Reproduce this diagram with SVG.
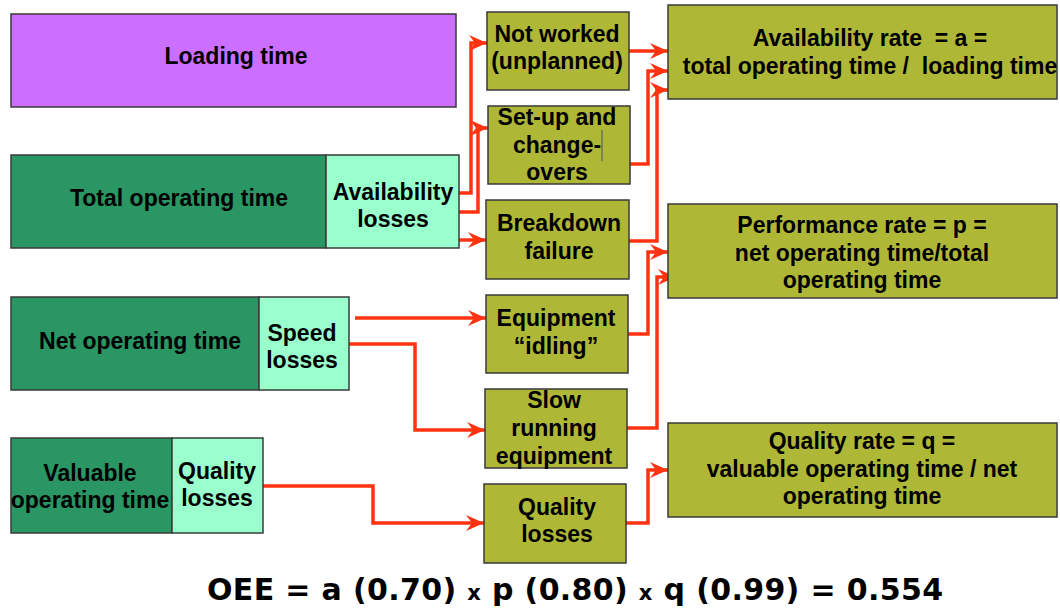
<svg xmlns="http://www.w3.org/2000/svg" width="1060" height="609" viewBox="0 0 1060 609">
<style>
  text { font-family: "Liberation Sans", Arial, sans-serif; font-weight: bold; font-size: 23px; fill: #000; text-anchor: middle; }
  .box { stroke: #3a3a3a; stroke-width: 1.5; }
  .purple { fill: #CC6EFF; }
  .dark { fill: #299664; }
  .mint { fill: #99FFCC; }
  .olive { fill: #AFB836; }
  .conn { fill: none; stroke: #FF3311; stroke-width: 3.5; stroke-linejoin: miter; }
  .oee { font-family: "DejaVu Sans", Verdana, sans-serif; font-size: 30px; text-anchor: start; }
</style>
<defs>
  <marker id="arr" markerUnits="userSpaceOnUse" markerWidth="20" markerHeight="18" refX="18" refY="9" orient="auto">
    <path d="M0,1 L18,9 L0,17 L6,9 Z" fill="#FF3311"/>
  </marker>
</defs>
<rect width="1060" height="609" fill="#ffffff"/>

<g id="connectors">
  <path class="conn" d="M459,193 H471 V43 H487" marker-end="url(#arr)"/>
  <path class="conn" d="M459,212 H478 V128 H488" marker-end="url(#arr)"/>
  <path class="conn" d="M459,240 H486" marker-end="url(#arr)"/>
  <path class="conn" d="M355,318 H486" marker-end="url(#arr)"/>
  <path class="conn" d="M349,344 H415 V430 H485" marker-end="url(#arr)"/>
  <path class="conn" d="M263,486 H373 V523 H484" marker-end="url(#arr)"/>
  <path class="conn" d="M629,51 H668" marker-end="url(#arr)"/>
  <path class="conn" d="M630,164 H648 V71 H668" marker-end="url(#arr)"/>
  <path class="conn" d="M629,241 H657 V90 H668" marker-end="url(#arr)"/>
  <path class="conn" d="M628,334 H648 V252 H668" marker-end="url(#arr)"/>
  <path class="conn" d="M627,428 H657 V277 H676" marker-end="url(#arr)"/>
  <path class="conn" d="M626,523 H648 V470 H668" marker-end="url(#arr)"/>
</g>

<g id="loading-time">
  <rect class="box purple" x="11" y="14" width="445" height="93"/>
  <text x="236" y="64">Loading time</text>
</g>

<g id="total-operating-time">
  <rect class="box dark" x="11" y="155" width="315" height="93"/>
  <text x="179" y="206">Total operating time</text>
</g>
<g id="availability-losses">
  <rect class="box mint" x="326" y="155" width="133" height="93"/>
  <text x="393" y="200">Availability</text>
  <text x="393" y="227">losses</text>
</g>

<g id="net-operating-time">
  <rect class="box dark" x="11" y="297" width="248" height="93"/>
  <text x="140" y="349">Net operating time</text>
</g>
<g id="speed-losses">
  <rect class="box mint" x="259" y="297" width="90" height="93"/>
  <text x="302" y="341">Speed</text>
  <text x="302" y="368">losses</text>
</g>

<g id="valuable-operating-time">
  <rect class="box dark" x="11" y="438" width="161" height="95"/>
  <text x="90" y="481">Valuable</text>
  <text x="90" y="508">operating time</text>
</g>
<g id="quality-losses-left">
  <rect class="box mint" x="172" y="438" width="91" height="95"/>
  <text x="217" y="479">Quality</text>
  <text x="217" y="506">losses</text>
</g>

<g id="not-worked">
  <rect class="box olive" x="487" y="12" width="142" height="78"/>
  <text x="557" y="42">Not worked</text>
  <text x="557" y="69">(unplanned)</text>
</g>
<g id="setup-changeovers">
  <rect class="box olive" x="488" y="106" width="142" height="78"/>
  <text x="557" y="125">Set-up and</text>
  <text x="557" y="153">change-</text>
  <text x="557" y="180">overs</text>
  <line x1="602" y1="130" x2="602" y2="161" stroke="#4a4a8a" stroke-width="1"/>
</g>
<g id="breakdown-failure">
  <rect class="box olive" x="486" y="200" width="143" height="79"/>
  <text x="559" y="231">Breakdown</text>
  <text x="559" y="259">failure</text>
</g>
<g id="equipment-idling">
  <rect class="box olive" x="486" y="295" width="142" height="78"/>
  <text x="556" y="326">Equipment</text>
  <text x="556" y="354">“idling”</text>
</g>
<g id="slow-running">
  <rect class="box olive" x="485" y="389" width="142" height="79"/>
  <text x="554" y="408">Slow</text>
  <text x="554" y="436">running</text>
  <text x="554" y="464">equipment</text>
</g>
<g id="quality-losses-mid">
  <rect class="box olive" x="484" y="484" width="142" height="79"/>
  <text x="557" y="515">Quality</text>
  <text x="557" y="542">losses</text>
</g>

<g id="availability-rate">
  <rect class="box olive" x="668" y="5" width="389" height="94"/>
  <text x="870" y="46" xml:space="preserve">Availability rate  = a =</text>
  <text x="870" y="74" xml:space="preserve">total operating time /  loading time</text>
</g>
<g id="performance-rate">
  <rect class="box olive" x="668" y="204" width="389" height="94"/>
  <text x="862" y="233">Performance rate = p =</text>
  <text x="862" y="261">net operating time/total</text>
  <text x="862" y="288">operating time</text>
</g>
<g id="quality-rate">
  <rect class="box olive" x="668" y="423" width="389" height="94"/>
  <text x="862" y="449">Quality rate = q =</text>
  <text x="862" y="477">valuable operating time / net</text>
  <text x="862" y="504">operating time</text>
</g>

<text class="oee" x="207" y="600" textLength="736" lengthAdjust="spacing" xml:space="preserve">OEE = a (0.70) <tspan font-size="21">x</tspan> p (0.80) <tspan font-size="21">x</tspan> q (0.99) = 0.554</text>
</svg>
